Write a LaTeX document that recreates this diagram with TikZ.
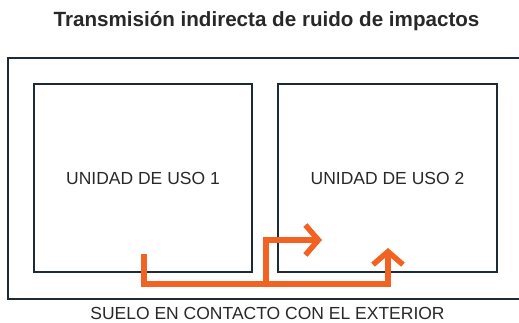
\documentclass[tikz,border=0pt]{standalone}
\usepackage{fontspec}
\setmainfont{Liberation Sans}
\usetikzlibrary{arrows.meta,positioning}
\definecolor{flujo}{RGB}{241,98,35}
\definecolor{muro}{RGB}{30,42,52}
\definecolor{texto}{RGB}{40,40,40}
\begin{document}
\begin{tikzpicture}[x=1pt,y=-1pt,
    room/.style={draw=muro, line width=1.5pt, minimum width=218pt, minimum height=188pt, inner sep=0pt, outer sep=0pt, font=\fontsize{17.5}{20}\selectfont, text=texto},
    wall/.style={draw=muro, line width=1.5pt},
    flow/.style={draw=flujo, line width=5.5pt, -{Straight Barb[length=13pt,width=30pt]}}
]
\useasboundingbox (0,0) rectangle (519,322);
\node[font=\bfseries\fontsize{20.6}{24}\selectfont, text=texto] (title) at (266.5,21) {Transmisión indirecta de ruido de impactos};

\draw[wall] (519,58) -| (8,299) -- (519,299);
\node[room] (u1) at (143,178) {UNIDAD DE USO 1};
\node[room, minimum width=219pt] (u2) at (387.5,178) {UNIDAD DE USO 2};
\node[font=\fontsize{17.5}{20}\selectfont, text=texto] (suelo) at (267.5,313) {SUELO EN CONTACTO CON EL EXTERIOR};

\coordinate (src) at (144,254);
\coordinate (fork) at (266,284);
\coordinate (tip1) at (322,240);
\coordinate (tip2) at (388,248);
\draw[flow] (src) |- (fork) -| (tip2);
\draw[flow] (fork) |- (tip1);
\end{tikzpicture}
\end{document}
